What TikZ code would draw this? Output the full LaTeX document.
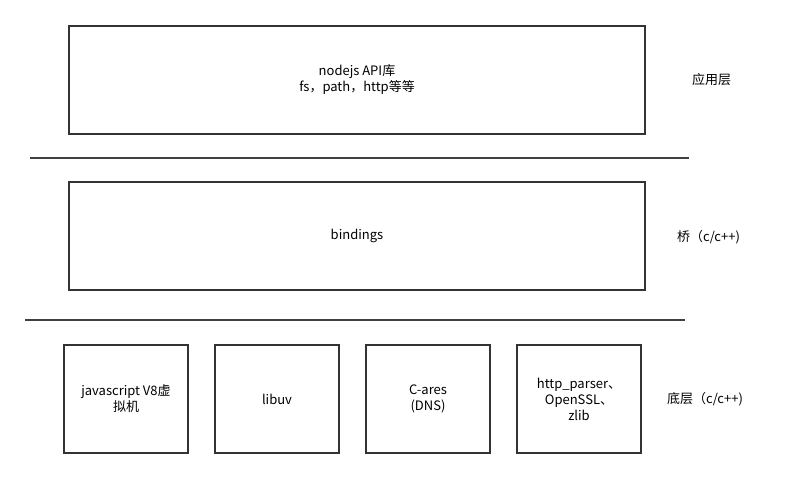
\documentclass[tikz,border=0pt]{standalone}
\usepackage{fontspec}
\setmainfont{Noto Sans CJK SC}

\begin{document}
\begin{tikzpicture}[x=1pt,y=-1pt,
  every node/.style={font=\fontsize{13}{16}\selectfont,align=center,inner sep=0pt},
  layer/.style={draw=black!80,line width=1.5pt,minimum width=576pt,minimum height=108pt},
  part/.style={draw=black!80,line width=1.5pt,minimum width=124pt,minimum height=108pt},
  tag/.style={anchor=west},
  sep/.style={draw=black!75,line width=1.5pt}]
\useasboundingbox (0,0) rectangle (802,477);
% layers
\node[layer] (api) at (357,80) {nodejs API库\\fs，path，http等等};
\node[layer] (bind) at (357,236) {bindings};
\foreach \i/\x/\t in {1/126/{javascript V8虚\\拟机},2/277/{libuv},
    3/428/{C-ares\\(DNS)},4/579/{http\_parser、\\OpenSSL、\\zlib}} {
  \node[part] (low\i) at (\x,399) {\t};
}
% separators
\coordinate (s1a) at (30,158);
\coordinate (s1b) at (689,158);
\coordinate (s2a) at (25,320);
\coordinate (s2b) at (685,320);
\draw[sep] (s1a) -- (s1b);
\draw[sep] (s2a) -- (s2b);
% names of the layers
\node[tag] (tapi) at (692,80) {应用层};
\node[tag] (tbind) at (677,237) {桥（c/c++)};
\node[tag] (tlow) at (667,399) {底层（c/c++)};
\end{tikzpicture}
\end{document}
